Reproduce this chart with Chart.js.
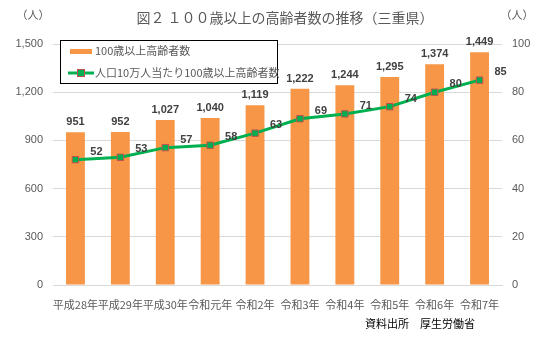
<!DOCTYPE html>
<html>
<head>
<meta charset="utf-8">
<script src="https://cdn.jsdelivr.net/npm/chart.js@4"></script>
<style>
  html, body { margin: 0; padding: 0; background: #fff; }
  #wrap { width: 550px; height: 337px; position: relative; }
</style>
</head>
<body>
<div id="wrap"><canvas id="c" width="550" height="337"></canvas></div>
<script>
// data
const categories = ['平成28年', '平成29年', '平成30年', '令和元年', '令和2年', '令和3年', '令和4年', '令和5年', '令和6年', '令和7年'];
const elderlyCount = [951, 952, 1027, 1040, 1119, 1222, 1244, 1295, 1374, 1449];
const per100k = [52, 53, 57, 58, 63, 69, 71, 74, 80, 85];
const leftTicks = [0, 300, 600, 900, 1200, 1500];
const rightTicks = [0, 20, 40, 60, 80, 100];

const titleText = '図２ １００歳以上の高齢者数の推移（三重県）';
const unitText = '（人）';
const sourceText = '資料出所　厚生労働省';
const barLabel = '100歳以上高齢者数';
const lineLabel = '人口10万人当たり100歳以上高齢者数';

const JP = '"Noto Sans CJK JP", "Noto Sans", sans-serif';
const ORANGE = '#F79646';
const GREEN = '#00B050';
const GRAY = '#595959';

// title, units, source note, legend box and value labels
const decorPlugin = {
  id: 'decor',
  afterDraw(chart) {
    const ctx = chart.ctx;
    ctx.save();
    ctx.fillStyle = GRAY;
    ctx.textBaseline = 'middle';
    ctx.font = '14px ' + JP;
    ctx.textAlign = 'center';
    ctx.fillText(titleText, 285, 18);
    ctx.font = '11px ' + JP;
    ctx.fillText(unitText, 33, 15);
    ctx.fillText(unitText, 517, 15);
    ctx.fillStyle = '#000';
    ctx.textAlign = 'left';
    ctx.fillText(sourceText, 365, 324);

    // legend
    ctx.fillStyle = '#fff';
    ctx.fillRect(60.5, 40.5, 217, 43);
    ctx.strokeStyle = '#000';
    ctx.lineWidth = 1;
    ctx.strokeRect(60.5, 40.5, 217, 43);
    ctx.fillStyle = ORANGE;
    ctx.fillRect(70, 49, 22, 5);
    ctx.strokeStyle = GREEN;
    ctx.lineWidth = 3;
    ctx.beginPath();
    ctx.moveTo(68, 73);
    ctx.lineTo(94, 73);
    ctx.stroke();
    ctx.fillStyle = GREEN;
    ctx.fillRect(77, 69, 8, 8);
    ctx.strokeStyle = '#C0504D';
    ctx.lineWidth = 1;
    ctx.strokeRect(77.5, 69.5, 7, 7);
    ctx.fillStyle = GRAY;
    ctx.font = '11px ' + JP;
    ctx.fillText(barLabel, 95, 51);
    ctx.fillText(lineLabel, 95, 73);
    ctx.restore();
  },
  afterDatasetsDraw(chart) {
    const ctx = chart.ctx;
    ctx.save();
    ctx.fillStyle = '#404040';
    ctx.font = 'bold 11px "Liberation Sans", "DejaVu Sans", sans-serif';
    ctx.textAlign = 'center';
    ctx.textBaseline = 'middle';
    chart.getDatasetMeta(1).data.forEach((bar, i) => {
      ctx.fillText(elderlyCount[i].toLocaleString('en-US'), bar.x, bar.y - 10);
    });
    chart.getDatasetMeta(0).data.forEach((pt, i) => {
      ctx.fillText(String(per100k[i]), pt.x + 21, pt.y - 8);
    });
    ctx.restore();
  }
};

new Chart(document.getElementById('c'), {
  type: 'bar',
  data: {
    labels: categories,
    datasets: [
      {
        type: 'line',
        label: lineLabel,
        data: per100k,
        yAxisID: 'y2',
        borderColor: GREEN,
        borderWidth: 3,
        pointStyle: 'rect',
        pointRadius: 4.5,
        pointBackgroundColor: GREEN,
        pointBorderColor: '#C0504D',
        pointBorderWidth: 1,
        tension: 0,
        order: 0
      },
      {
        type: 'bar',
        label: barLabel,
        data: elderlyCount,
        yAxisID: 'y',
        backgroundColor: ORANGE,
        categoryPercentage: 1,
        barPercentage: 0.42,
        order: 1
      }
    ]
  },
  options: {
    responsive: false,
    animation: false,
    layout: { padding: { top: 44, left: 0, right: 0, bottom: 0 } },
    plugins: {
      legend: { display: false },
      title: { display: false },
      tooltip: { enabled: false }
    },
    scales: {
      x: {
        grid: { display: false },
        border: { color: '#D9D9D9', width: 1 },
        ticks: { color: GRAY, font: { family: JP, size: 11 }, padding: 5, maxRotation: 0, autoSkip: false },
        afterFit(scale) { scale.height = 52; }
      },
      y: {
        position: 'left',
        min: 0,
        max: 1500,
        afterBuildTicks(scale) { scale.ticks = leftTicks.map(v => ({ value: v })); },
        grid: { color: '#D9D9D9', drawTicks: false },
        border: { display: false },
        ticks: {
          color: GRAY,
          font: { family: '"Liberation Sans", sans-serif', size: 11 },
          padding: 10,
          callback: v => v.toLocaleString('en-US')
        },
        afterFit(scale) { scale.width = 53; }
      },
      y2: {
        position: 'right',
        min: 0,
        max: 100,
        afterBuildTicks(scale) { scale.ticks = rightTicks.map(v => ({ value: v })); },
        grid: { display: false, drawTicks: false },
        border: { display: false },
        ticks: {
          color: GRAY,
          font: { family: '"Liberation Sans", sans-serif', size: 11 },
          padding: 10
        },
        afterFit(scale) { scale.width = 48; }
      }
    }
  },
  plugins: [decorPlugin]
});
</script>
</body>
</html>
